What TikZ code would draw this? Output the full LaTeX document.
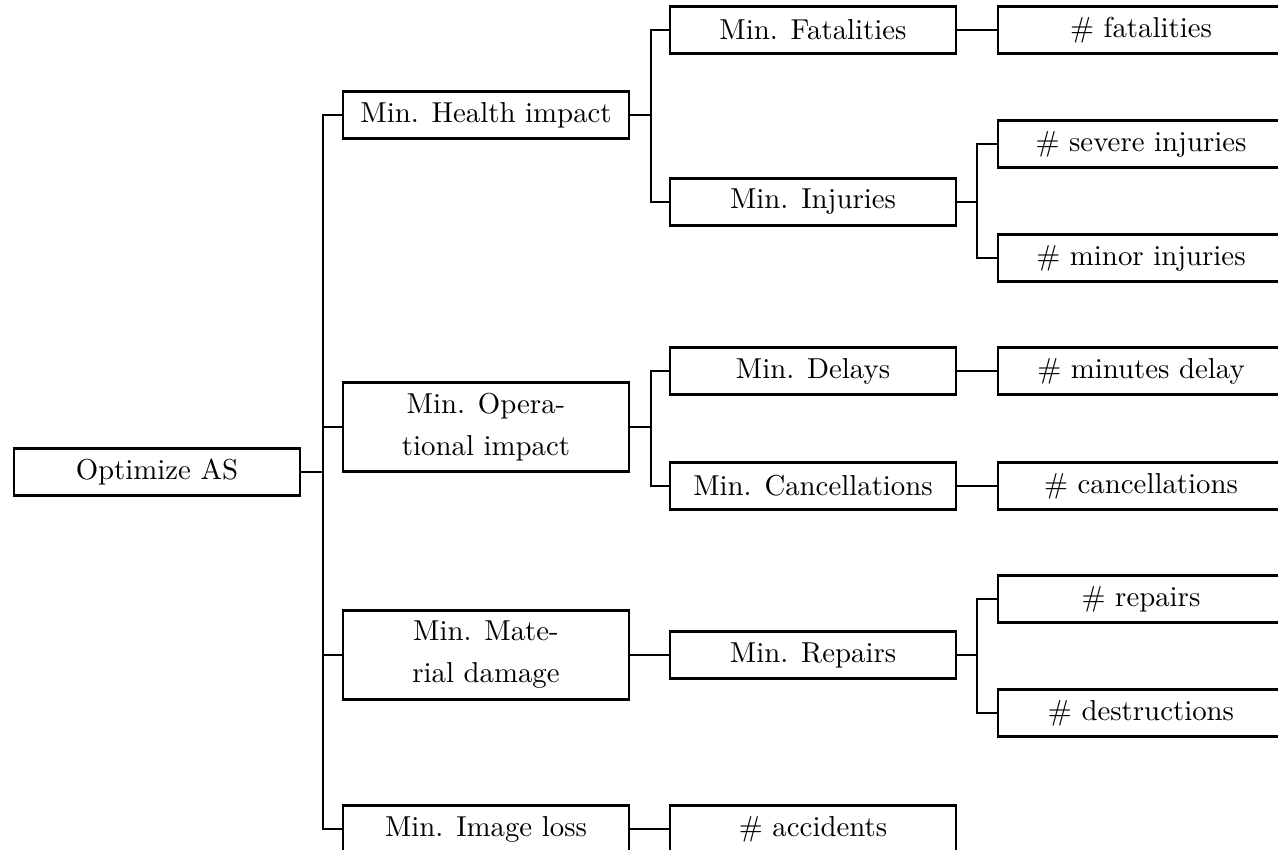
\documentclass[tikz,border=0pt]{standalone}
\usepackage{fontspec}
\setmainfont{lmroman10-regular.otf}
\begin{document}
\begin{tikzpicture}[
        x=0.02cm, y=-0.02cm,
    ]

    \tikzstyle{box} = [rectangle, minimum width=5.72cm, minimum height=0.94cm,
                       text centered, inner sep=0pt, draw=black, line width=1.3pt,
                       font=\fontsize{16.4}{24}\selectfont]
    \tikzstyle{tallbox} = [box, align=center, minimum height=1.78cm]
    \tikzstyle{link} = [line width=1.3pt]

    \useasboundingbox (0,0) rectangle (1278,849);

    % Nodes
    \node[box] (optimize) at (157,472) {Optimize AS};

    \node[box] (health) at (486,115) {Min. Health impact};
    \node[tallbox] (operational) at (486,427) {Min. Opera-\\tional impact};
    \node[tallbox] (material) at (486,655) {Min. Mate-\\rial damage};
    \node[box] (image) at (486,829) {Min. Image loss};

    \node[box] (fatalities) at (813,30) {Min. Fatalities};
    \node[box] (injuries) at (813,202) {Min. Injuries};
    \node[box] (delays) at (813,371) {Min. Delays};
    \node[box] (cancel) at (813,486) {Min. Cancellations};
    \node[box] (repairs) at (813,655) {Min. Repairs};
    \node[box] (accidents) at (813,829) {\# accidents};

    \node[box] (nfatal) at (1141,30) {\# fatalities};
    \node[box] (nsevere) at (1141,144) {\# severe injuries};
    \node[box] (nminor) at (1141,258) {\# minor injuries};
    \node[box] (ndelay) at (1141,371) {\# minutes delay};
    \node[box] (ncancel) at (1141,486) {\# cancellations};
    \node[box] (nrepairs) at (1141,599) {\# repairs};
    \node[box] (ndestruct) at (1141,713) {\# destructions};

    % Connectors
    \draw[link] (optimize.east) -- ++(22,0) |- (health.west);
    \draw[link] (optimize.east) -- ++(22,0) |- (operational.west);
    \draw[link] (optimize.east) -- ++(22,0) |- (material.west);
    \draw[link] (optimize.east) -- ++(22,0) |- (image.west);

    \draw[link] (health.east) -- ++(21,0) |- (fatalities.west);
    \draw[link] (health.east) -- ++(21,0) |- (injuries.west);
    \draw[link] (operational.east) -- ++(21,0) |- (delays.west);
    \draw[link] (operational.east) -- ++(21,0) |- (cancel.west);
    \draw[link] (material.east) -- (repairs.west);
    \draw[link] (image.east) -- (accidents.west);

    \draw[link] (fatalities.east) -- (nfatal.west);
    \draw[link] (injuries.east) -- ++(20,0) |- (nsevere.west);
    \draw[link] (injuries.east) -- ++(20,0) |- (nminor.west);
    \draw[link] (delays.east) -- (ndelay.west);
    \draw[link] (cancel.east) -- (ncancel.west);
    \draw[link] (repairs.east) -- ++(20,0) |- (nrepairs.west);
    \draw[link] (repairs.east) -- ++(20,0) |- (ndestruct.west);

\end{tikzpicture}
\end{document}
